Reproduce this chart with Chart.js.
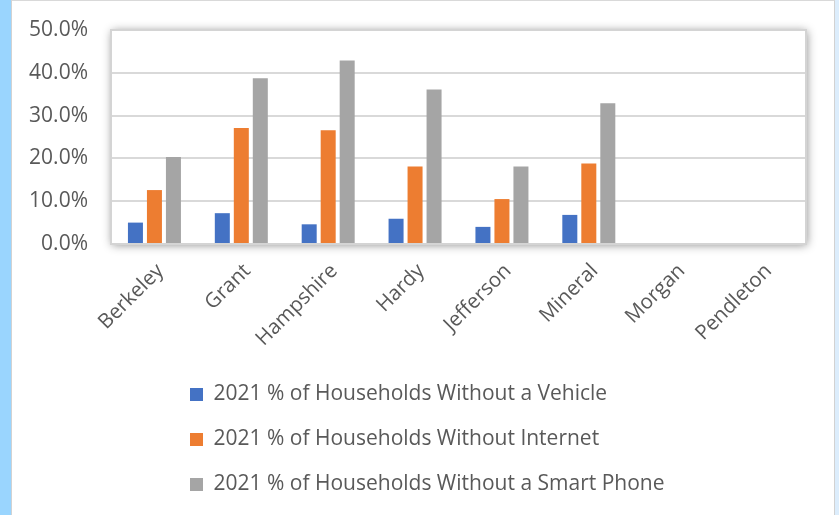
<!DOCTYPE html>
<html>
<head>
<meta charset="utf-8">
<script src="https://cdn.jsdelivr.net/npm/chart.js@4.4.1/dist/chart.umd.min.js"></script>
<style>
  html, body { margin: 0; padding: 0; background: #fff; }
  body { width: 839px; height: 515px; position: relative; overflow: hidden; }
  .strip-left { position: absolute; left: 0; top: 0; width: 11px; height: 515px; background: #9ad5fe; }
  .strip-right { position: absolute; left: 835px; top: 0; width: 4px; height: 515px; background: #dcedfc; }
  .frame { position: absolute; left: 11px; top: 0; width: 822px; height: 515px;
           border-left: 1px solid #d2d2d2; border-right: 1px solid #d2d2d2; border-top: 1px solid #d9d9d9; }
  canvas { position: absolute; left: 12px; top: 1px; }
</style>
</head>
<body>
<div class="strip-left"></div>
<div class="strip-right"></div>
<div class="frame"></div>
<canvas id="chart" width="822" height="514"></canvas>
<script>
const counties = ["Berkeley", "Grant", "Hampshire", "Hardy", "Jefferson", "Mineral", "Morgan", "Pendleton"];
const noVehicle = [5.0, 7.2, 4.6, 5.9, 4.0, 6.8, null, null];
const noInternet = [12.6, 27.1, 26.6, 18.1, 10.5, 18.8, null, null];
const noSmartPhone = [20.3, 38.7, 42.9, 36.1, 18.1, 32.9, null, null];
const yTickLabels = ["0.0%", "10.0%", "20.0%", "30.0%", "40.0%", "50.0%"];

const textColor = "#595959";
const fontFamily = "'Open Sans', 'Noto Sans', sans-serif";

// white plot area with a soft shadow and a grey outline
const plotFrame = {
  id: "plotFrame",
  beforeDraw(chart) {
    const { ctx, chartArea: a } = chart;
    ctx.save();
    ctx.shadowColor = "rgba(0,0,0,0.45)";
    ctx.shadowBlur = 9;
    ctx.shadowOffsetX = 1;
    ctx.shadowOffsetY = 1;
    ctx.fillStyle = "#fff";
    ctx.fillRect(a.left, a.top, a.width, a.height);
    ctx.restore();
  },
  beforeDatasetsDraw(chart) {
    const { ctx, chartArea: a } = chart;
    ctx.save();
    ctx.strokeStyle = "#d4d4d4";
    ctx.lineWidth = 2;
    ctx.strokeRect(a.left, a.top, a.width, a.height);
    ctx.restore();
  },
};

// move the stacked legend to the right spot
const legendShift = {
  id: "legendShift",
  afterLayout(chart) {
    const lg = chart.legend;
    const dx = 154 - lg.left;
    lg.left += dx;
    lg.right += dx;
  },
};

new Chart(document.getElementById("chart"), {
  type: "bar",
  data: {
    labels: counties,
    datasets: [
      { label: "2021 % of Households Without a Vehicle", data: noVehicle, backgroundColor: "#4472c4" },
      { label: "2021 % of Households Without Internet", data: noInternet, backgroundColor: "#ed7d31" },
      { label: "2021 % of Households Without a Smart Phone", data: noSmartPhone, backgroundColor: "#a5a5a5" },
    ],
  },
  options: {
    responsive: false,
    animation: false,
    layout: { padding: { left: 0, top: 29, right: 28, bottom: 10 } },
    datasets: {
      bar: { categoryPercentage: 0.656, barPercentage: 0.79 },
    },
    plugins: {
      tooltip: { enabled: false },
      legend: {
        position: "bottom",
        align: "start",
        labels: {
          color: textColor,
          font: { family: fontFamily, size: 21 },
          boxWidth: 13,
          boxHeight: 13,
          padding: 24,
        },
      },
    },
    scales: {
      x: {
        grid: { display: false },
        border: { display: false },
        ticks: {
          color: textColor,
          font: { family: fontFamily, size: 20.5 },
          minRotation: 45,
          maxRotation: 45,
          autoSkip: false,
          padding: 7,
          labelOffset: 6,
        },
        afterFit(scale) {
          scale.height = 116;
        },
      },
      y: {
        min: 0,
        max: 50,
        grid: { color: "#d9d9d9", lineWidth: 2, tickLength: 19, tickColor: "rgba(0,0,0,0)" },
        border: { display: false },
        ticks: {
          stepSize: 10,
          color: textColor,
          font: { family: fontFamily, size: 21 },
          padding: 4,
          callback: (v, i) => yTickLabels[i],
        },
        afterFit(scale) {
          scale.width = 99;
        },
      },
    },
  },
  plugins: [plotFrame, legendShift],
});
</script>
</body>
</html>
